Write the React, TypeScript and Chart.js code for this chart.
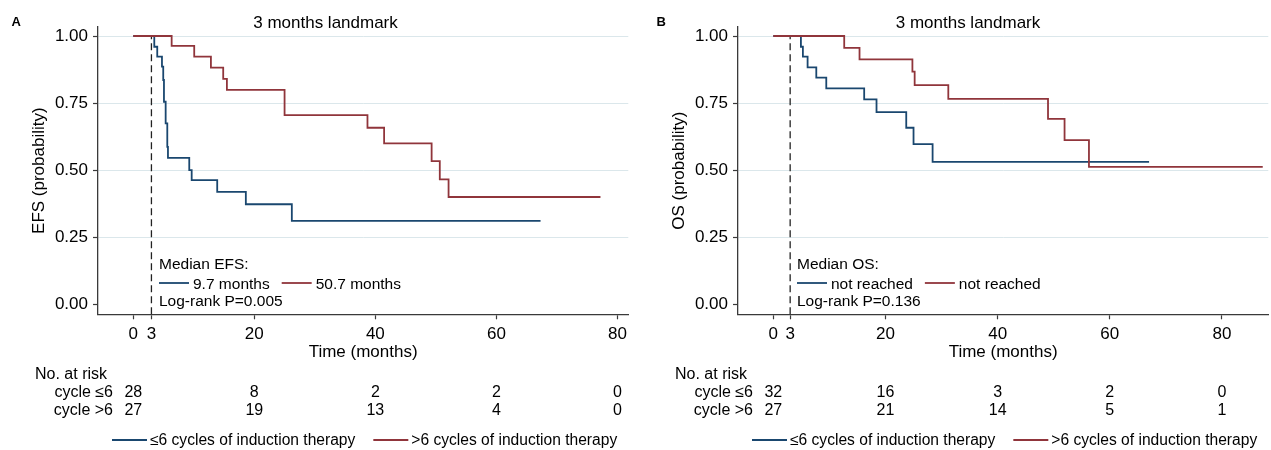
import React, { useEffect, useRef } from "react";
import { Chart, registerables } from "chart.js";

Chart.register(...registerables);

const FONT = '"Liberation Sans", Arial, Helvetica, sans-serif';
const NAVY = "#1a476f";
const MAROON = "#90353b";
const AXIS = "#3a3a3a";
const GRID = "#dbe7eb";

const xTicks = [0, 3, 20, 40, 60, 80];
const yTicks = [0, 0.25, 0.5, 0.75, 1];
const riskTicks = [0, 20, 40, 60, 80];
const landmarkMonth = 3;

// Panel A – EFS (Kaplan–Meier step points: time, survival after the step)
const efsLowTimes = [0, 3.47, 3.96, 4.74, 4.95, 5.07, 5.35, 5.62, 5.73, 9.25, 9.65, 13.87, 18.6, 26.2, 67.3];
const efsLowSurv = [1, 0.96, 0.923, 0.886, 0.836, 0.755, 0.674, 0.587, 0.546, 0.5, 0.463, 0.419, 0.373, 0.311, 0.311];
const efsHighTimes = [0, 6.34, 10.07, 12.83, 14.86, 15.47, 25.0, 38.7, 41.45, 49.3, 50.65, 52.1, 77.2];
const efsHighSurv = [1, 0.963, 0.923, 0.882, 0.84, 0.799, 0.705, 0.658, 0.6, 0.534, 0.466, 0.4, 0.4];
const efsRiskLow = [28, 8, 2, 2, 0];
const efsRiskHigh = [27, 19, 13, 4, 0];

// Panel B – OS
const osLowTimes = [0, 4.92, 5.27, 6.11, 7.66, 9.44, 16.2, 18.4, 23.7, 25.0, 28.4, 67.0];
const osLowSurv = [1, 0.96, 0.923, 0.883, 0.845, 0.805, 0.764, 0.716, 0.658, 0.597, 0.531, 0.531];
const osHighTimes = [0, 12.64, 15.37, 24.8, 25.2, 31.2, 48.98, 51.93, 56.28, 87.27];
const osHighSurv = [1, 0.956, 0.913, 0.867, 0.817, 0.766, 0.691, 0.612, 0.512, 0.512];
const osRiskLow = [32, 16, 3, 2, 0];
const osRiskHigh = [27, 21, 14, 5, 1];

const groupLabels = ["\u22646 cycles of induction therapy", ">6 cycles of induction therapy"];
const riskRowLabels = ["cycle \u22646", "cycle >6"];

type Panel = {
  letter: string;
  title: string;
  yTitle: string;
  medianTitle: string;
  medianLow: string;
  medianHigh: string;
  logrank: string;
  lowTimes: number[];
  lowSurv: number[];
  highTimes: number[];
  highSurv: number[];
  riskLow: number[];
  riskHigh: number[];
  xMin: number;
  xMax: number;
  width: number;
  left: number;
  letterX: number;
  titleX: number;
  legendX: number;
};

const panels: Panel[] = [
  {
    letter: "A",
    title: "3 months landmark",
    yTitle: "EFS (probability)",
    medianTitle: "Median EFS:",
    medianLow: "9.7 months",
    medianHigh: "50.7 months",
    logrank: "Log-rank P=0.005",
    lowTimes: efsLowTimes,
    lowSurv: efsLowSurv,
    highTimes: efsHighTimes,
    highSurv: efsHighSurv,
    riskLow: efsRiskLow,
    riskHigh: efsRiskHigh,
    xMin: -5.83,
    xMax: 81.8,
    width: 640,
    left: 0,
    letterX: 11.5,
    titleX: 325.5,
    legendX: 159,
  },
  {
    letter: "B",
    title: "3 months landmark",
    yTitle: "OS (probability)",
    medianTitle: "Median OS:",
    medianLow: "not reached",
    medianHigh: "not reached",
    logrank: "Log-rank P=0.136",
    lowTimes: osLowTimes,
    lowSurv: osLowSurv,
    highTimes: osHighTimes,
    highSurv: osHighSurv,
    riskLow: osRiskLow,
    riskHigh: osRiskHigh,
    xMin: -6.3,
    xMax: 88.26,
    width: 631,
    left: 640,
    letterX: 16.5,
    titleX: 328,
    legendX: 157,
  },
];

const H = 450;
const Y_MIN = -0.0373;
const Y_MAX = 1.0336;
const PLOT_LEFT = 98;
const PLOT_TOP = 27;
const PLOT_BOTTOM = 314.3;
const PLOT_RIGHT = 628.3;

function overlayPlugin(p: Panel) {
  return {
    id: "overlay" + p.letter,
    afterDraw(chart: any) {
      const { ctx, chartArea: ca, scales } = chart;
      const xs = scales.x;
      ctx.save();
      ctx.fillStyle = "#000";
      ctx.textBaseline = "alphabetic";

      // panel letter
      ctx.font = `bold 13px ${FONT}`;
      ctx.textAlign = "left";
      ctx.fillText(p.letter, p.letterX, 26);

      // title
      ctx.font = `17px ${FONT}`;
      ctx.textAlign = "center";
      ctx.fillText(p.title, p.titleX, 28.3);

      // y title
      ctx.save();
      ctx.translate(43.5, (ca.top + ca.bottom) / 2);
      ctx.rotate(-Math.PI / 2);
      ctx.textAlign = "center";
      ctx.fillText(p.yTitle, 0, 0);
      ctx.restore();

      // x title
      ctx.textAlign = "center";
      ctx.fillText("Time (months)", (ca.left + ca.right) / 2, 357);

      // in-plot legend
      ctx.font = `15.5px ${FONT}`;
      ctx.textAlign = "left";
      const x0 = p.legendX;
      ctx.fillText(p.medianTitle, x0, 269);
      const lineLen = 30;
      ctx.lineWidth = 1.8;
      ctx.strokeStyle = NAVY;
      ctx.beginPath();
      ctx.moveTo(x0, 283);
      ctx.lineTo(x0 + lineLen, 283);
      ctx.stroke();
      ctx.fillText(p.medianLow, x0 + lineLen + 4, 288.5);
      const col2 = x0 + lineLen + 4 + ctx.measureText(p.medianLow).width + 12;
      ctx.strokeStyle = MAROON;
      ctx.beginPath();
      ctx.moveTo(col2, 283);
      ctx.lineTo(col2 + lineLen, 283);
      ctx.stroke();
      ctx.fillText(p.medianHigh, col2 + lineLen + 4, 288.5);
      ctx.fillText(p.logrank, x0, 306);

      // risk table
      ctx.font = `16px ${FONT}`;
      ctx.textAlign = "left";
      ctx.fillText("No. at risk", 35, 379.3);
      ctx.textAlign = "right";
      ctx.fillText(riskRowLabels[0], 113, 397.3);
      ctx.fillText(riskRowLabels[1], 113, 415.3);
      ctx.textAlign = "center";
      riskTicks.forEach((t, i) => {
        const px = xs.getPixelForValue(t);
        ctx.fillText(String(p.riskLow[i]), px, 397.3);
        ctx.fillText(String(p.riskHigh[i]), px, 415.3);
      });

      // bottom legend
      ctx.font = `15.6px ${FONT}`;
      ctx.textAlign = "left";
      const ly = 440;
      const l1 = 112;
      const len = 35;
      ctx.strokeStyle = NAVY;
      ctx.beginPath();
      ctx.moveTo(l1, ly);
      ctx.lineTo(l1 + len, ly);
      ctx.stroke();
      ctx.fillText(groupLabels[0], l1 + len + 3, 444.5);
      const l2 = l1 + len + 3 + ctx.measureText(groupLabels[0]).width + 18;
      ctx.strokeStyle = MAROON;
      ctx.beginPath();
      ctx.moveTo(l2, ly);
      ctx.lineTo(l2 + len, ly);
      ctx.stroke();
      ctx.fillText(groupLabels[1], l2 + len + 3, 444.5);

      ctx.restore();
    },
  };
}

function toPoints(times: number[], surv: number[]) {
  return times.map((t, i) => ({ x: t, y: surv[i] }));
}

function KMPanel({ p }: { p: Panel }) {
  const ref = useRef<HTMLCanvasElement | null>(null);
  useEffect(() => {
    if (!ref.current) return;
    const chart = new Chart(ref.current, {
      type: "line",
      data: {
        datasets: [
          {
            data: toPoints(p.highTimes, p.highSurv),
            stepped: "before",
            borderColor: MAROON,
            borderWidth: 1.8,
            pointRadius: 0,
            fill: false,
            order: 0,
          },
          {
            data: toPoints(p.lowTimes, p.lowSurv),
            stepped: "before",
            borderColor: NAVY,
            borderWidth: 1.8,
            pointRadius: 0,
            fill: false,
            order: 1,
          },
          {
            data: [
              { x: landmarkMonth, y: Y_MIN },
              { x: landmarkMonth, y: 1 },
            ],
            borderColor: "#222",
            borderWidth: 1.3,
            borderDash: [7, 4],
            pointRadius: 0,
            fill: false,
            order: 2,
          },
        ],
      },
      options: {
        responsive: false,
        animation: false,
        events: [],
        layout: {
          padding: { left: 0, top: PLOT_TOP, right: p.width - PLOT_RIGHT, bottom: 0 },
        },
        plugins: {
          legend: { display: false },
          tooltip: { enabled: false },
          title: { display: false },
        },
        scales: {
          x: {
            type: "linear",
            min: p.xMin,
            max: p.xMax,
            afterBuildTicks: (s: any) => {
              s.ticks = xTicks.map((v) => ({ value: v }));
            },
            afterFit: (s: any) => {
              s.height = H - PLOT_BOTTOM;
            },
            ticks: {
              autoSkip: false,
              maxRotation: 0,
              color: "#000",
              font: { family: FONT, size: 17 },
              padding: 5,
              callback: (v: any) => String(v),
            },
            grid: {
              drawOnChartArea: false,
              drawTicks: true,
              tickLength: 5,
              tickColor: AXIS,
              tickWidth: 1.2,
            },
            border: { display: true, color: AXIS, width: 1.3 },
          },
          y: {
            type: "linear",
            min: Y_MIN,
            max: Y_MAX,
            afterBuildTicks: (s: any) => {
              s.ticks = yTicks.map((v) => ({ value: v }));
            },
            afterFit: (s: any) => {
              s.width = PLOT_LEFT;
            },
            ticks: {
              color: "#000",
              font: { family: FONT, size: 17 },
              padding: 5,
              callback: (v: any) => Number(v).toFixed(2),
            },
            grid: {
              color: (c: any) => (c.tick && c.tick.value === 0 ? "rgba(0,0,0,0)" : GRID),
              lineWidth: 1,
              drawTicks: true,
              tickLength: 5,
              tickColor: AXIS,
              tickWidth: 1.2,
            },
            border: { display: true, color: AXIS, width: 1.3 },
          },
        },
      },
      plugins: [overlayPlugin(p)],
    } as any);
    return () => chart.destroy();
  }, [p]);
  return (
    <canvas
      ref={ref}
      width={p.width}
      height={H}
      style={{ position: "absolute", left: p.left, top: 0, display: "block" }}
    />
  );
}

export default function App() {
  return (
    <div style={{ position: "absolute", left: 0, top: 0, width: 1271, height: H, background: "#fff" }}>
      {panels.map((p) => (
        <KMPanel key={p.letter} p={p} />
      ))}
    </div>
  );
}
